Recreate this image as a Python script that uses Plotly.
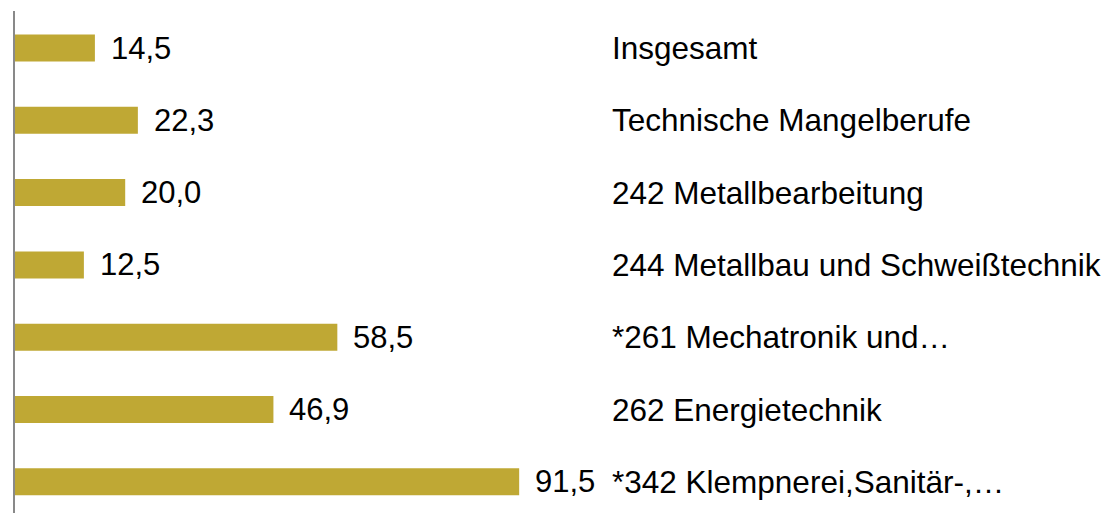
import plotly.graph_objects as go

categories = [
    "Insgesamt",
    "Technische Mangelberufe",
    "242 Metallbearbeitung",
    "244 Metallbau und Schweißtechnik",
    "*261 Mechatronik und…",
    "262 Energietechnik",
    "*342 Klempnerei,Sanitär-,…",
]
values = [14.5, 22.3, 20.0, 12.5, 58.5, 46.9, 91.5]
value_labels = ["14,5", "22,3", "20,0", "12,5", "58,5", "46,9", "91,5"]

W, H = 1113, 513
OFF = 8  # page body margin
L, R, T, B = 15 - OFF, 0, 11 - OFF, 0
px_per_unit = 5.51
plot_w = W - L - R
plot_h = H - T - B
xmax = plot_w / px_per_unit

positions = list(range(len(categories)))
FONT = "Liberation Sans, Arial, sans-serif"

row_px = 72.3
y_top = -0.5 - 0.85 / row_px
y_bot = y_top + plot_h / row_px

fig = go.Figure()
fig.add_trace(go.Bar(
    x=values, y=positions, orientation="h",
    marker=dict(color="#BFA834", line=dict(width=0)),
    width=0.373, hoverinfo="skip",
))

annotations = []
for i, (v, lab) in enumerate(zip(values, value_labels)):
    annotations.append(dict(
        x=v, y=i, xref="x", yref="y", text=lab, showarrow=False,
        xanchor="left", yanchor="middle", xshift=14,
        font=dict(family=FONT, size=31, color="#000000"),
    ))
cat_x = (613 - 3 - OFF - L) / plot_w
for i, c in enumerate(categories):
    annotations.append(dict(
        x=cat_x, y=i, xref="paper", yref="y", text=c, showarrow=False,
        xanchor="left", yanchor="middle",
        font=dict(family=FONT, size=31.5, color="#000000"),
    ))

fig.update_layout(
    width=W, height=H,
    margin=dict(l=L, r=R, t=T, b=B, pad=0, autoexpand=False),
    paper_bgcolor="white", plot_bgcolor="white",
    showlegend=False,
    annotations=annotations,
    xaxis=dict(range=[0, xmax], visible=False, fixedrange=True),
    yaxis=dict(range=[y_bot, y_top], showticklabels=False, showgrid=False,
               zeroline=False, ticks="", showline=True, linecolor="#898989",
               linewidth=2, fixedrange=True),
)

fig.write_html("out.html")
